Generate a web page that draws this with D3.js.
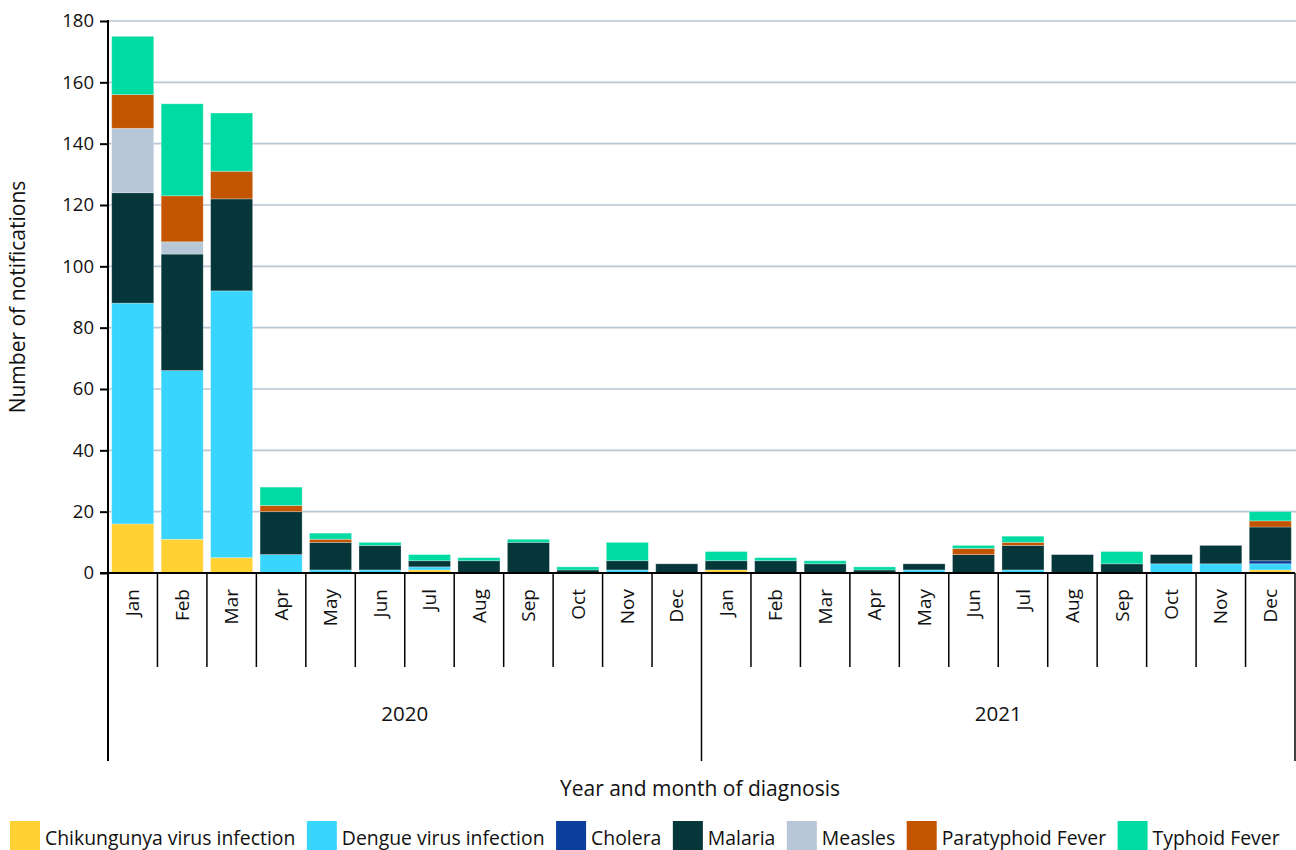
<!DOCTYPE html>
<html><head><meta charset="utf-8">
<script src="https://cdn.jsdelivr.net/npm/d3@7"></script>
<style>body{margin:0;background:#fff}svg{display:block}text{font-family:"Open Sans","Noto Sans",sans-serif;fill:#111}</style>
</head><body><svg id="c" width="1296" height="850"></svg>
<script>
const months = ["Jan","Feb","Mar","Apr","May","Jun","Jul","Aug","Sep","Oct","Nov","Dec"];
const years = ["2020","2021"];
const seriesNames = ["Chikungunya virus infection","Dengue virus infection","Cholera","Malaria","Measles","Paratyphoid Fever","Typhoid Fever"];
const seriesColors = ["#FFD133","#38D6FF","#0A3F9E","#05363A","#B7C7D7","#C45500","#00DBA3"];
const chikungunya = [16,11,5,0,0,0,1,0,0,0,0,0, 1,0,0,0,0,0,0,0,0,0,0,1];
const dengue      = [72,55,87,6,1,1,1,0,0,0,1,0, 0,0,0,0,1,0,1,0,0,3,3,2];
const cholera     = [0,0,0,0,0,0,0,0,0,0,0,0, 0,0,0,0,0,0,0,0,0,0,0,1];
const malaria     = [36,38,30,14,9,8,2,4,10,1,3,3, 3,4,3,1,2,6,8,6,3,3,6,11];
const measles     = [21,4,0,0,0,0,0,0,0,0,0,0, 0,0,0,0,0,0,0,0,0,0,0,0];
const paratyphoid = [11,15,9,2,1,0,0,0,0,0,0,0, 0,0,0,0,0,2,1,0,0,0,0,2];
const typhoid     = [19,30,19,6,2,1,2,1,1,1,6,0, 3,1,1,1,0,1,2,0,4,0,0,3];
const yTicks = [0,20,40,60,80,100,120,140,160,180];

const seriesValues = [chikungunya,dengue,cholera,malaria,measles,paratyphoid,typhoid];
const keys = [];
years.forEach(y => months.forEach(m => keys.push(y + "-" + m)));
const rows = keys.map((k,i) => {
  const r = {key:k, month:k.split("-")[1], year:k.split("-")[0]};
  seriesNames.forEach((s,j) => r[s] = seriesValues[j][i]);
  return r;
});

const svg = d3.select("#c");
const L = 108, R = 1295, T = 21, B = 573;
const x = d3.scaleBand().domain(keys).range([L,R]).paddingInner(0.15).paddingOuter(0.075);
const y = d3.scaleLinear().domain([0,180]).range([B,T]);
const color = d3.scaleOrdinal().domain(seriesNames).range(seriesColors);

// gridlines
svg.append("g").selectAll("line").data(yTicks.filter(d=>d>0)).join("line")
  .attr("x1",L).attr("x2",1296).attr("y1",d=>y(d)).attr("y2",d=>y(d))
  .attr("stroke","#B9C6D6").attr("stroke-width",1.6);

// bars
const stack = d3.stack().keys(seriesNames)(rows);
svg.append("g").selectAll("g").data(stack).join("g")
  .attr("fill",d=>color(d.key))
  .selectAll("rect").data(d=>d.filter(p=>p[1]-p[0]>0)).join("rect")
  .attr("x",d=>x(d.data.key)).attr("width",x.bandwidth())
  .attr("y",d=>y(d[1])).attr("height",d=>y(d[0])-y(d[1]))
  .attr("stroke","#ffffff").attr("stroke-opacity",0.35).attr("stroke-width",0.8);

// y axis
const yAxis = svg.append("g").attr("transform",`translate(${L},0)`)
  .call(d3.axisLeft(y).tickValues(yTicks).tickSize(8).tickPadding(6));
yAxis.select(".domain").remove();
yAxis.selectAll(".tick line").attr("stroke","#000").attr("stroke-width",2);
yAxis.selectAll(".tick text").attr("font-size",18.5).attr("font-family","'Open Sans',sans-serif").attr("fill","#111");
svg.append("line").attr("x1",L).attr("x2",L).attr("y1",T-1).attr("y2",761).attr("stroke","#000").attr("stroke-width",2);

// x axis baseline
svg.append("line").attr("x1",L-8).attr("x2",R).attr("y1",B).attr("y2",B).attr("stroke","#000").attr("stroke-width",2);

// month separators
const gap = (x.step()-x.bandwidth())/2;
const sepXs = keys.map(k => x(k) - gap).concat([x(keys[keys.length-1]) + x.bandwidth() + gap]);
svg.append("g").selectAll("line").data(sepXs).join("line")
  .attr("x1",d=>d).attr("x2",d=>d).attr("y1",B).attr("y2",(d,i)=> (i===12||i===24) ? 761 : 667)
  .attr("stroke","#000").attr("stroke-width",(d,i)=> i===0 ? 0 : 1.5);

// month labels
svg.append("g").selectAll("text").data(rows).join("text")
  .attr("transform",d=>`translate(${x(d.key)+x.bandwidth()/2},589) rotate(-90)`)
  .attr("text-anchor","end").attr("dy","0.35em").attr("font-size",19)
  .text(d=>d.month);

// year labels
years.forEach(yr => {
  const ks = keys.filter(k=>k.startsWith(yr));
  const cx = (x(ks[0]) - gap + x(ks[ks.length-1]) + x.bandwidth() + gap)/2;
  svg.append("text").attr("x",cx).attr("y",721).attr("text-anchor","middle").attr("font-size",20.5).text(yr);
});

// axis titles
svg.append("text").attr("x",700).attr("y",796).attr("text-anchor","middle").attr("font-size",21).text("Year and month of diagnosis");
svg.append("text").attr("transform",`translate(25,${(T+B)/2}) rotate(-90)`).attr("text-anchor","middle").attr("font-size",21).text("Number of notifications");

// legend
const lg = svg.append("g");
let lx = 10;
seriesNames.forEach((s,i) => {
  lg.append("rect").attr("x",lx).attr("y",821).attr("width",30).attr("height",29).attr("fill",seriesColors[i]);
  const t = lg.append("text").attr("x",lx+35).attr("y",845).attr("font-size",19.4).text(s);
  lx += 35 + t.node().getComputedTextLength() + 11.5;
});
</script></body></html>
